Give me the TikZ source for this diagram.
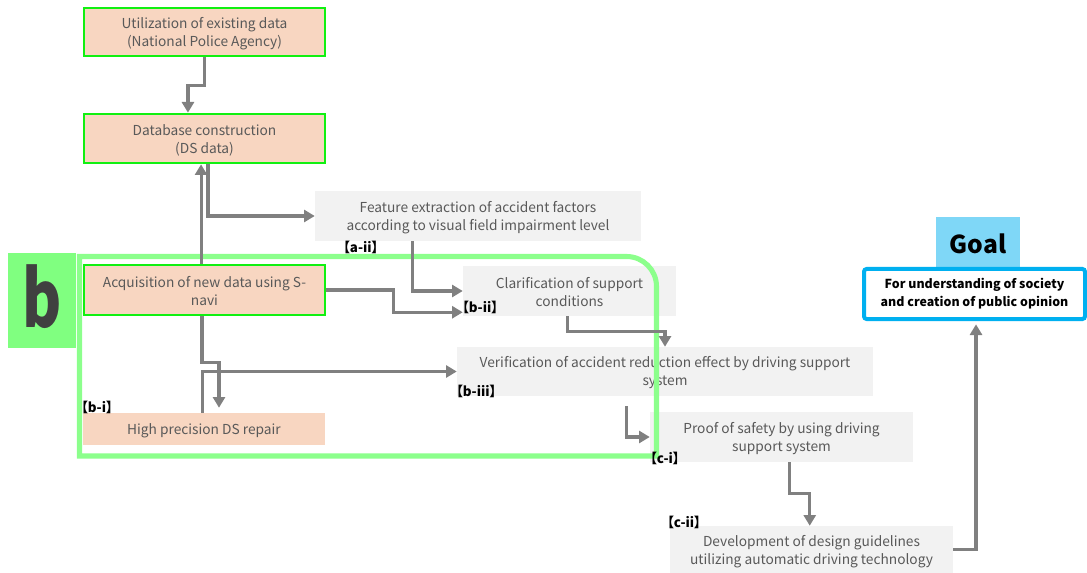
\documentclass[tikz,border=0pt]{standalone}
\usepackage{fontspec}
\setmainfont{Noto Sans CJK JP}[RawFeature=+palt]
\usetikzlibrary{arrows.meta,fit}
\definecolor{peach}{HTML}{F8D6C1}
\definecolor{lgray}{HTML}{F2F2F2}
\definecolor{limeg}{HTML}{11F011}
\definecolor{outg}{HTML}{8CFF8C}
\definecolor{bfill}{HTML}{80FF80}
\definecolor{arrg}{HTML}{808080}
\definecolor{txtg}{HTML}{595959}
\definecolor{goalfill}{HTML}{7FD7F7}
\definecolor{goalblue}{HTML}{00B0F0}
\definecolor{bdark}{HTML}{404040}
\tikzset{
  boxtext/.style={inner sep=0pt, align=center, text=txtg, font=\fontsize{10.3}{13.5}\selectfont, yshift=-1.15pt},
  pbox/.style={inner sep=0pt, fill=peach},
  pgbox/.style={inner sep=0pt, fill=peach, draw=limeg, line width=2pt},
  gbox/.style={inner sep=0pt, fill=lgray},
  lbl/.style={anchor=west, inner sep=0pt, font=\bfseries\fontsize{10}{12}\selectfont},
  arr/.style={draw=arrg, line width=2.3pt, -{Triangle[length=8pt,width=9pt]}},
  outline/.style={draw=outg, line width=3.8pt},
}
\begin{document}
\begin{tikzpicture}[x=0.75pt,y=-0.75pt]
\useasboundingbox (0,0) rectangle (1087,573);
% boxes
\node[pgbox, fit={(84,8) (325,56)}] (util) {};
\node[pgbox, fit={(84,114) (325,163)}] (db) {};
\node[gbox, fit={(315,191) (641,241)}] (feat) {};
\node[pgbox, fit={(84,265) (325,315)}] (acq) {};
\node[pbox, fit={(83,413) (325,445)}] (hp) {};
\node[gbox, fit={(463,266) (676,316)}] (clar) {};
\node[gbox, fit={(457,347) (873,396)}] (verif) {};
\node[gbox, fit={(650,412) (913,462)}] (proof) {};
\node[gbox, fit={(670,526) (953,573)}] (dev) {};
% box texts
\node[boxtext] (t-util) at (util) {Utilization of existing data\\(National Police Agency)};
\node[boxtext] (t-db) at (db) {Database construction\\(DS data)};
\node[boxtext] (t-feat) at (feat) {Feature extraction of accident factors\\according to visual field impairment level};
\node[boxtext] (t-acq) at (acq) {Acquisition of new data using S-\\navi};
\node[boxtext] (t-hp) at (hp) {High precision DS repair};
\node[boxtext] (t-clar) at (clar) {Clarification of support\\conditions};
\node[boxtext] (t-verif) at (verif) {Verification of accident reduction effect by driving support\\system};
\node[boxtext] (t-proof) at (proof) {Proof of safety by using driving\\support system};
\node[boxtext, yshift=-0.3pt] (t-dev) at (dev) {Development of design guidelines\\utilizing automatic driving technology};
% b label
\node[fill=bfill, inner sep=0pt, fit={(8,253) (76,348)}] (blabel) {};
\node[inner sep=0pt, text=bdark, font=\bfseries\fontsize{59}{62}\selectfont, yshift=3pt] (t-b) at (blabel) {\scalebox{0.76}[1]{b}};
% goal
\node[fill=goalfill, inner sep=0pt, fit={(936,217) (1020,267)}] (goallbl) {};
\node[inner sep=0pt, font=\bfseries\fontsize{18.5}{22}\selectfont, yshift=-1pt] (t-goallbl) at (goallbl) {Goal};
\node[fill=white, draw=goalblue, line width=3pt, rounded corners=2pt, inner sep=0pt, fit={(864,269) (1085,319)}] (goal) {};
\node[inner sep=0pt, align=center, font=\bfseries\fontsize{9.3}{13.5}\selectfont] (t-goal) at (goal) {For understanding of society\\and creation of public opinion};
% green outline
\draw[outline] (79.5,456) -- (79.5,256.5) -- (626.5,256.5) .. controls (643.1,256.5) and (656.5,269.9) .. (656.5,286.5) -- (656.5,456) -- cycle;
% arrows
\draw[arr] (util.south) -- ++(0,28) -| ([xshift=-12.4pt]db.north);
\draw[arr] ([xshift=-2.6pt]acq.north) -- ([xshift=-2.6pt]db.south);
\draw[arr] ([xshift=2.6pt]db.south) |- (feat.west);
\draw[arr] (acq.east) -- ++(67,0) |- ([yshift=3pt]clar.south west);
\draw[arr] ([xshift=73.5pt]feat.south west) |- (clar.west);
\draw[arr] ([xshift=78.75pt]clar.south west) -- ++(0,15) -| (verif.north);
\draw[arr, shorten >=3.75pt] ([xshift=-1.9pt]acq.south) -- ++(0,46) -| ([xshift=11.25pt]hp.north);
\draw[arr] ([xshift=-1.1pt]hp.north) |- (verif.west);
\draw[arr, shorten <=7.5pt] ([xshift=127.5pt]verif.south west) |- (proof.west);
\draw[arr] ([xshift=105pt]proof.south west) -- ++(0,31) -| ([xshift=105pt]dev.north west);
\draw[arr, shorten >=2.5pt] (dev.east) -| ([xshift=85.5pt]goal.south west);
% labels
\node[lbl] (la) at (343,247) {【a-ii】};
\node[lbl] (lbi) at (81,407) {【b-i】};
\node[lbl] (lbii) at (462,307) {【b-ii】};
\node[lbl] (lbiii) at (456,391) {【b-iii】};
\node[lbl] (lci) at (650,458) {【c-i】};
\node[lbl] (lcii) at (667,522) {【c-ii】};
\end{tikzpicture}
\end{document}
